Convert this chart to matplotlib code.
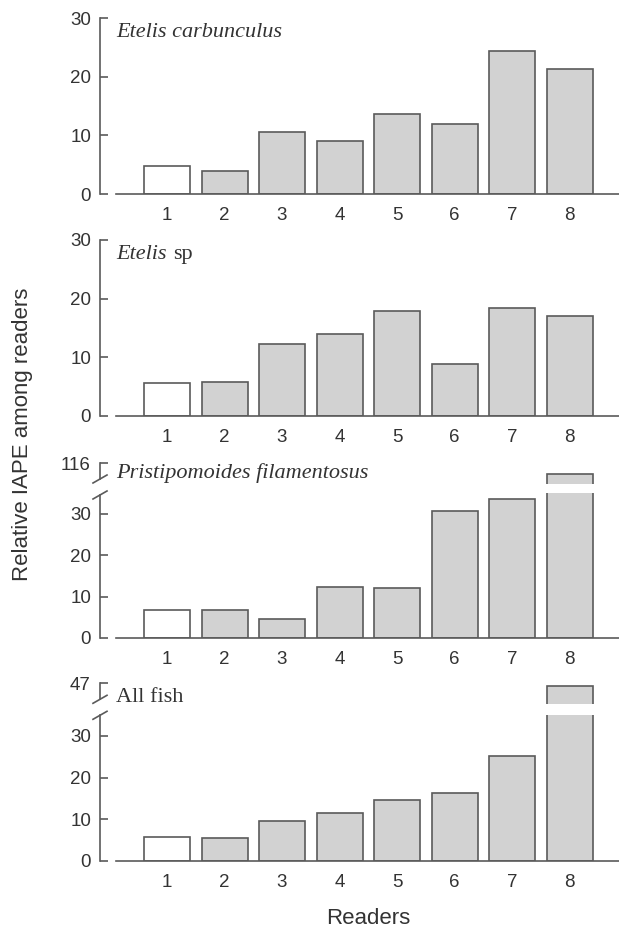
import matplotlib
matplotlib.use('Agg')
import matplotlib.pyplot as plt
from matplotlib.lines import Line2D

# ---------------- data ----------------
readers = [1, 2, 3, 4, 5, 6, 7, 8]
xtick_labels = ['1', '2', '3', '4', '5', '6', '7', '8']
iape_etelis_carbunculus = [4.8, 4.0, 10.5, 9.1, 13.7, 12.0, 24.4, 21.3]
iape_etelis_sp = [5.7, 5.85, 12.3, 14.0, 17.9, 8.9, 18.4, 17.0]
iape_pristipomoides = [6.8, 6.8, 4.5, 12.3, 12.2, 30.7, 33.7, 113.3]
iape_all_fish = [5.8, 5.5, 9.5, 11.5, 14.7, 16.4, 25.2, 46.4]
yticks_main = [0, 10, 20, 30]
upper_ticks_pristi = [116]
upper_ticks_all = [47]

# ---------------- style ----------------
plt.rcParams['font.family'] = ['Liberation Sans', 'DejaVu Sans']
W, H = 619, 931
DPI = 100
fig = plt.figure(figsize=(W / DPI, H / DPI), dpi=DPI)

TXT = '#333333'
EDGE = '#5a5a5a'
FILL = '#d2d2d2'
LW = 1.2
PX = 72.0 / DPI  # points per pixel
TICKSIZE = 13.5

X0, X1 = 116, 619  # axes horizontal extent (pixels)


def add_ax(y_top, y_bot):
    return fig.add_axes([X0 / W, 1 - y_bot / H, (X1 - X0) / W, (y_bot - y_top) / H])


def style_ax(ax, vals, ylim, yticks, show_x=True):
    colors = ['white'] + [FILL] * (len(readers) - 1)
    ax.bar(readers, vals, width=0.8, color=colors, edgecolor=EDGE, linewidth=LW)
    ax.set_xlim(0.113, 8.86)
    ax.set_ylim(*ylim)
    ax.set_yticks(yticks)
    ax.set_yticklabels([str(t) for t in yticks])
    ax.spines['top'].set_visible(False)
    ax.spines['right'].set_visible(False)
    ax.spines['left'].set_position(('outward', 16 * PX))
    ax.spines['left'].set_color(EDGE)
    ax.spines['left'].set_linewidth(LW)
    ax.tick_params(axis='y', direction='in', length=8 * PX, width=LW, color=EDGE,
                   pad=9 * PX, labelsize=TICKSIZE, labelcolor=TXT)
    if show_x:
        ax.spines['bottom'].set_color(EDGE)
        ax.spines['bottom'].set_linewidth(LW)
        ax.set_xticks(readers)
        ax.set_xticklabels(xtick_labels)
        ax.tick_params(axis='x', length=0, pad=9.5, labelsize=TICKSIZE, labelcolor=TXT)
    else:
        ax.spines['bottom'].set_visible(False)
        ax.set_xticks([])
    ax.patch.set_alpha(0)


def title(text_parts, baseline_px, ax):
    x = X0 / W
    y = 1 - baseline_px / H
    first_txt, first_italic = text_parts[0]
    t = fig.text(x, y, first_txt, family='Liberation Serif',
                 style='italic' if first_italic else 'normal',
                 fontsize=16, color=TXT, va='bottom', ha='left')
    prev = t
    for txt, it in text_parts[1:]:
        prev = ax.annotate(txt, xy=(1, 0), xycoords=prev, xytext=(5, 0),
                           textcoords='offset points', va='bottom', ha='left',
                           family='Liberation Serif',
                           style='italic' if it else 'normal',
                           fontsize=16, color=TXT, annotation_clip=False)


def slash(xc, yc):
    dx, dy = 7, 4
    fig.add_artist(Line2D([(xc - dx) / W, (xc + dx) / W],
                          [1 - (yc + dy) / H, 1 - (yc - dy) / H],
                          transform=fig.transFigure, color=EDGE, lw=LW, clip_on=False))


# ---------------- panel 1 ----------------
ax1 = add_ax(18, 194)
style_ax(ax1, iape_etelis_carbunculus, (0, 30), yticks_main)
title([('Etelis carbunculus', True)], 38 + 4, ax1)

# ---------------- panel 2 ----------------
ax2 = add_ax(240, 416)
style_ax(ax2, iape_etelis_sp, (0, 30), yticks_main)
title([('Etelis', True), ('sp', False)], 260 + 4, ax2)


# ---------------- broken panels ----------------
def broken_panel(vals, y0_px, scale, upper_top_px, upper_lim, upper_ticks, ttl, base_px):
    lo_top = y0_px - 35 * scale
    axl = add_ax(lo_top, y0_px)
    style_ax(axl, vals, (0, 35), yticks_main)
    up_h = (upper_lim[1] - upper_lim[0]) * scale
    axu = add_ax(upper_top_px, upper_top_px + up_h)
    style_ax(axu, vals, upper_lim, upper_ticks, show_x=False)
    s1 = upper_top_px + 16
    s2 = upper_top_px + 32
    axu.spines['left'].set_bounds(upper_lim[1] - 16 / scale, upper_lim[1])
    axl.spines['left'].set_bounds(0, min(35, (y0_px - s2) / scale))
    slash(100, s1)
    slash(100, s2)
    title(ttl, base_px, axl)
    return axl, axu


broken_panel(iape_pristipomoides, 638, 124 / 30, 463, (111, 116), upper_ticks_pristi,
             [('Pristipomoides filamentosus', True)], 479 + 4)
broken_panel(iape_all_fish, 860.7, 124.7 / 30, 683.3, (42, 47), upper_ticks_all,
             [('All fish', False)], 703 + 4)

# ---------------- axis labels ----------------
fig.text(23 / W, 1 - 434 / H, 'Relative IAPE among readers', rotation=90,
         fontsize=16, color=TXT, ha='center', va='center')
fig.text(368 / W, 1 - 918 / H, 'Readers', fontsize=16, color=TXT,
         ha='center', va='center')

fig.savefig('out.png', dpi=DPI)
